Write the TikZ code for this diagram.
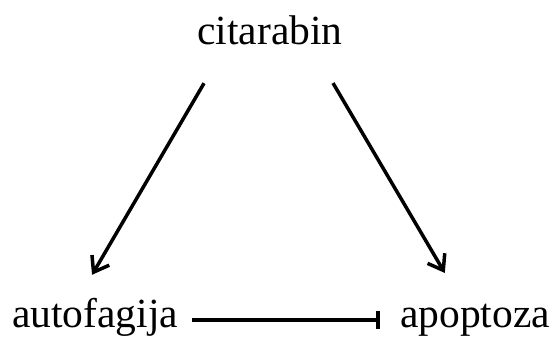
\documentclass[tikz,border=0pt]{standalone}
\usepackage{fontspec}
\setmainfont{Liberation Serif}
\usetikzlibrary{arrows.meta}

\begin{document}
\begin{tikzpicture}[x=1pt,y=1pt,
  term/.style={inner sep=0pt,anchor=base,text height=29pt,text depth=9pt,
    font=\fontsize{41.5}{48}\selectfont},
  act/.style={line width=3.5pt,-{Straight Barb[length=14pt,width=20pt,line width=3.5pt]}},
  inhib/.style={line width=3.5pt,-{Bar[width=18pt,line width=3.5pt]}}]
  \useasboundingbox (0,0) rectangle (555,340);
  \node[term] (cit)  at (270,295) {citarabin};
  \node[term] (auto) at (95,12)   {autofagija};
  \node[term] (apo)  at (475,12)  {apoptoza};
  \draw[act,shorten <=33.6pt,shorten >=27.8pt]
    ([xshift=-49pt]cit.south) -- ([xshift=-17pt]auto.north);
  \draw[act,shorten <=33.5pt,shorten >=30pt]
    ([xshift=46pt]cit.south) -- ([xshift=-15pt]apo.north);
  \draw[inhib,shorten <=14pt,shorten >=20pt]
    ([yshift=-2pt]auto.east) -- ([yshift=-2pt]apo.west);
\end{tikzpicture}
\end{document}
